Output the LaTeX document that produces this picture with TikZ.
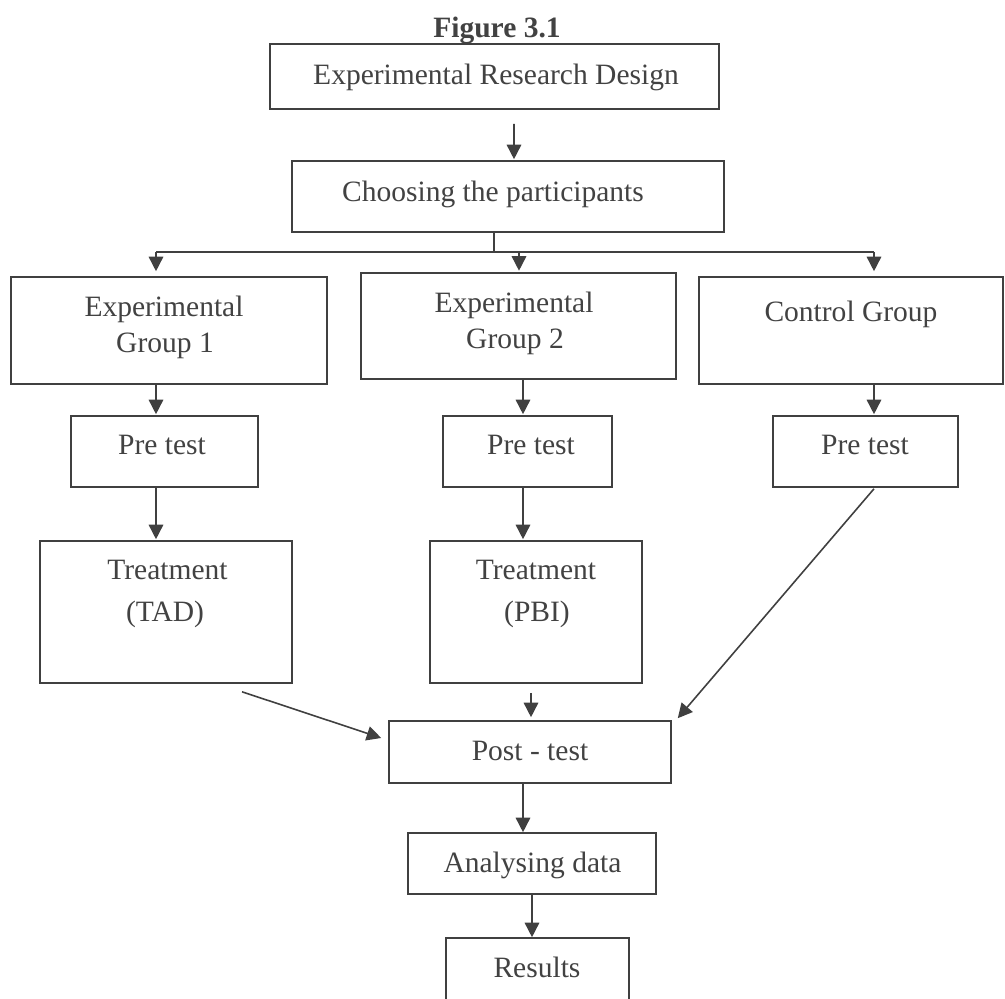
\documentclass[tikz,border=0pt]{standalone}
\usepackage{fontspec}
\setmainfont{Liberation Serif}
\usetikzlibrary{arrows.meta,calc}
\definecolor{inkc}{RGB}{66,66,66}
\definecolor{linec}{RGB}{64,64,64}
\newcommand\boxnode[5]{\node[boxst, minimum width={(#4-#2)*0.02cm}, minimum height={(#5-#3)*0.02cm}] (#1) at ({(#2+#4)/2},{(#3+#5)/2}) {};}
\tikzset{
  boxst/.style={draw=linec, line width=0.9pt, fill=white, inner sep=0pt, rectangle},
  txt/.style={anchor=base, inner sep=0pt, text=inkc, font=\fontsize{16.8pt}{20pt}\selectfont},
  conn/.style={draw=linec, line width=0.9pt},
  arr/.style={conn, -{Triangle[length=0.29cm,width=0.29cm]}}
}
\begin{document}
\begin{tikzpicture}[x=0.02cm,y=-0.02cm]
\useasboundingbox[fill=white] (0,0) rectangle (1005,999);
% boxes
\boxnode{erd}{270}{44}{719}{109}
\boxnode{choose}{292}{161}{724}{232}
\boxnode{g1}{11}{277}{327}{384}
\boxnode{g2}{361}{273}{676}{379}
\boxnode{ctrl}{699}{277}{1003}{384}
\boxnode{p1}{71}{416}{258}{487}
\boxnode{p2}{443}{416}{612}{487}
\boxnode{p3}{773}{416}{958}{487}
\boxnode{t1}{40}{541}{292}{683}
\boxnode{t2}{430}{541}{642}{683}
\boxnode{post}{389}{721}{671}{783}
\boxnode{anal}{408}{833}{656}{894}
\boxnode{res}{446}{938}{629}{1012}
% texts
\node[txt, font=\fontsize{16.8pt}{20pt}\selectfont\bfseries] (title) at (497,38) {Figure 3.1};
\node[txt] (erdT) at (496,85) {Experimental Research Design};
\node[txt] (chooseT) at (493,202) {Choosing the participants};
\node[txt] (g1a) at (164,317) {Experimental};
\node[txt] (g1b) at (165,353) {Group 1};
\node[txt] (g2a) at (514,313) {Experimental};
\node[txt] (g2b) at (515,349) {Group 2};
\node[txt] (ctrlT) at (851,322) {Control Group};
\node[txt] (p1T) at (162,455) {Pre test};
\node[txt] (p2T) at (531,455) {Pre test};
\node[txt] (p3T) at (865,455) {Pre test};
\node[txt] (t1a) at (167.5,580) {Treatment};
\node[txt] (t1b) at (165,622) {(TAD)};
\node[txt] (t2a) at (536,580) {Treatment};
\node[txt] (t2b) at (537,622) {(PBI)};
\node[txt] (postT) at (530,761) {Post - test};
\node[txt] (analT) at (532.5,873) {Analysing data};
\node[txt] (resT) at (537,978) {Results};
% branch coordinates
\coordinate (br) at (494,252);
\coordinate (bl) at (156,252);
\coordinate (bm) at (519,252);
\coordinate (brr) at (874,252);
% connectors
\draw[arr] ($(erd.south)+(19.5,14)$) -- ($(choose.north)+(6,-1)$);
\draw[conn] ($(choose.south)+(-14,0)$) -- (br);
\draw[conn] (bl) -- (brr);
\draw[arr, shorten >=0.1cm] (bl) -- (bl |- g1.north);
\draw[arr, shorten >=0.03cm] (bm) -- (bm |- g2.north);
\draw[arr, shorten >=0.1cm] (brr) -- (brr |- ctrl.north);
\draw[arr] ($(g1.south)+(-13,0)$) -- ($(p1.north)+(-8.5,-1)$);
\draw[arr] ($(g2.south)+(4.5,0)$) -- ($(p2.north)+(-4.5,-1)$);
\draw[arr] ($(ctrl.south)+(23,0)$) -- ($(p3.north)+(8.5,-1)$);
\draw[arr] ($(p1.south)+(-8.5,0)$) -- ($(t1.north)+(-10,-1)$);
\draw[arr] ($(p2.south)+(-4.5,0)$) -- ($(t2.north)+(-13,-1)$);
\draw[arr] ($(t1.south)+(76,8)$) -- ($(post.west)+(-7,-14)$);
\draw[arr] ($(t2.south)+(-5,9)$) -- ($(post.north)+(1,-3)$);
\draw[arr] ($(p3.south)+(8.5,1)$) -- ($(post.north east)+(6,-2)$);
\draw[arr] ($(post.south)+(-7,0)$) -- ($(anal.north)+(-9,0)$);
\draw[arr] (anal.south) -- ($(res.north)+(-5.5,0)$);
\end{tikzpicture}
\end{document}
